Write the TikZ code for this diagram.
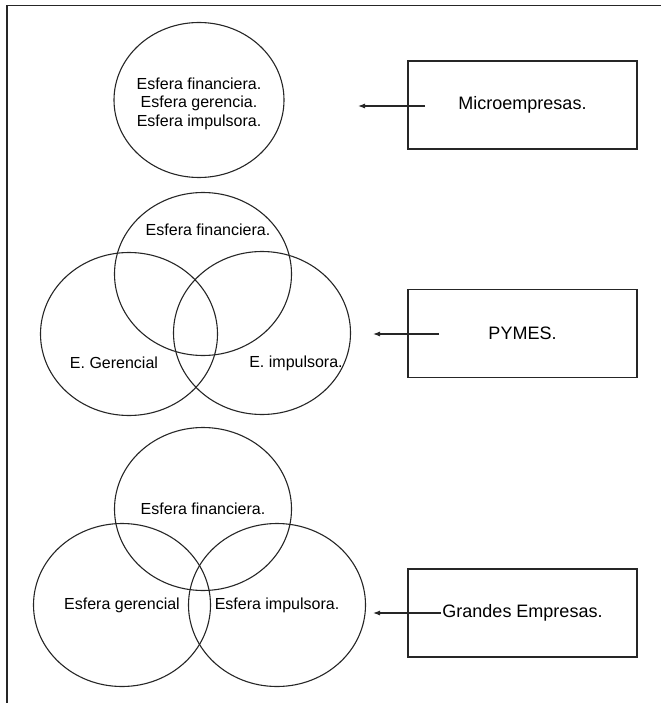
\documentclass[tikz,border=0pt]{standalone}
\usepackage{fontspec}
\setmainfont{Liberation Sans}
\usetikzlibrary{shapes.geometric,arrows.meta}
\begin{document}
\begin{tikzpicture}[x=1pt,y=-1pt,
  line width=1.1pt, draw=black!85,
  sphere/.style={ellipse, draw, line width=1.1pt, minimum width=177, minimum height=163, inner sep=0pt},
  lbl/.style={font=\fontsize{16}{18.5}\selectfont, inner sep=0pt, align=center},
  orgbox/.style={rectangle, draw, line width=1.1pt, minimum width=229, minimum height=88, inner sep=0pt, font=\fontsize{18}{20}\selectfont},
  pointer/.style={-{Latex[length=7pt,width=5pt]}, line width=1.1pt}
]
\useasboundingbox (0,0) rectangle (661,703);
% frame
\draw[line width=1.1pt] (7,703) -- (7,5.5) -- (661,5.5);

% top section
\node[sphere, minimum width=170, minimum height=155] (micro) at (199,100) {};
\node[lbl] (microt) at (199,103.5) {Esfera financiera.\\Esfera gerencia.\\Esfera impulsora.};
\node[orgbox] (bmicro) at (522.5,105) {Microempresas.};
\coordinate (a1s) at (425,106);
\coordinate (a1e) at (358,106);
\draw[pointer] (a1s) -- (a1e);

% middle section
\node[sphere] (mtop) at (203,274) {};
\node[sphere] (mleft) at (129,334) {};
\node[sphere] (mright) at (262,333) {};
\node[lbl] (mtopt) at (208,230) {Esfera financiera.};
\node[lbl] (mleftt) at (114,363) {E. Gerencial};
\node[lbl] (mrightt) at (296,363) {E. impulsora.};
\node[orgbox] (bpymes) at (522.5,333.5) {PYMES.};
\coordinate (a2s) at (439,334);
\coordinate (a2e) at (373,334);
\draw[pointer] (a2s) -- (a2e);

% bottom section
\node[sphere, lbl] (btop) at (203,509) {Esfera financiera.};
\node[sphere, lbl] (bleft) at (122,605) {Esfera gerencial};
\node[sphere, lbl] (bright) at (277,605) {Esfera impulsora.};
\node[orgbox] (bgrandes) at (522.5,613) {Grandes Empresas.};
\coordinate (a3s) at (441,613);
\coordinate (a3e) at (373,613);
\draw[pointer] (a3s) -- (a3e);
\end{tikzpicture}
\end{document}
